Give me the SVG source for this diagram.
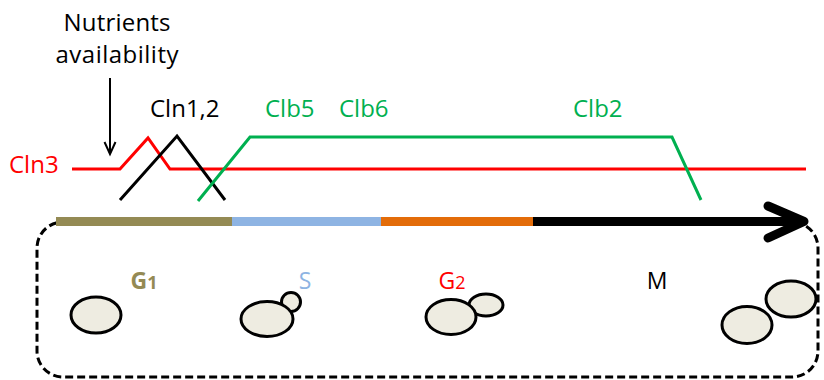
<svg xmlns="http://www.w3.org/2000/svg" width="824" height="380" viewBox="0 0 824 380">
  <style>
    text { font-family: "Open Sans", "Liberation Sans", sans-serif; }
    .lbl { font-size: 24px; }
    .phase { font-size: 23px; text-anchor: middle; }
    .sub { font-size: 18px; }
    .curve { fill: none; stroke-width: 3; stroke-linejoin: miter; }
    .cell { fill: #EEECE1; stroke: #000; stroke-width: 3; }
  </style>

  <!-- cell-cycle frame -->
  <rect x="37" y="222" width="781" height="155" rx="26" ry="26" fill="none" stroke="#000" stroke-width="3" stroke-dasharray="8,4"/>

  <g id="connectors">
    <!-- nutrient signal -->
    <line x1="110" y1="78" x2="110" y2="153" stroke="#000" stroke-width="2"/>
    <path d="M104.5,142 L110,154 L115.5,142" fill="none" stroke="#000" stroke-width="2"/>
    <!-- Cln3 level -->
    <polyline class="curve" stroke="#FF0000" points="72,169 120,169 148,138 170,169 806,169"/>
    <!-- Cln1,2 pulse -->
    <polyline class="curve" stroke="#000" points="120,200 177,136 225,200"/>
    <!-- Clb5/6 and Clb2 -->
    <polyline class="curve" stroke="#00B050" points="198,201 250,137 672,137 701,200"/>
  </g>

  <g id="phase-bar">
    <line x1="56" y1="221.5" x2="232" y2="221.5" stroke="#948A54" stroke-width="9"/>
    <line x1="232" y1="221.5" x2="381" y2="221.5" stroke="#8EB4E3" stroke-width="9"/>
    <line x1="381" y1="221.5" x2="533" y2="221.5" stroke="#E36C09" stroke-width="9"/>
    <line x1="533" y1="221.5" x2="800" y2="221.5" stroke="#000" stroke-width="9"/>
    <polyline points="768,206 804,221.5 768,238" fill="none" stroke="#000" stroke-width="9" stroke-linecap="round" stroke-linejoin="round"/>
  </g>

  <g id="nutrients">
    <text class="lbl" x="117" y="31" text-anchor="middle" textLength="107">Nutrients</text>
    <text class="lbl" x="117" y="63" text-anchor="middle" textLength="123">availability</text>
  </g>
  <g id="cln3"><text class="lbl" x="9" y="173" fill="#FF0000">Cln3</text></g>
  <g id="cln12"><text class="lbl" x="150" y="117">Cln1,2</text></g>
  <g id="clb56">
    <text class="lbl" x="265" y="117" fill="#00B050">Clb5</text>
    <text class="lbl" x="339" y="117" fill="#00B050">Clb6</text>
  </g>
  <g id="clb2"><text class="lbl" x="573" y="117" fill="#00B050">Clb2</text></g>

  <g id="g1">
    <text class="phase" x="144" y="289" fill="#948A54" font-weight="bold">G<tspan class="sub">1</tspan></text>
    <ellipse class="cell" cx="96" cy="315" rx="25" ry="18"/>
  </g>
  <g id="s">
    <text class="phase" x="305" y="289" fill="#8EB4E3">S</text>
    <circle class="cell" cx="291" cy="302" r="9.5"/>
    <ellipse class="cell" cx="267" cy="319" rx="26" ry="17.5"/>
  </g>
  <g id="g2">
    <text class="phase" x="452" y="289" fill="#FF0000">G<tspan class="sub">2</tspan></text>
    <ellipse class="cell" cx="486" cy="305" rx="17" ry="11"/>
    <ellipse class="cell" cx="451" cy="317" rx="25" ry="17.5"/>
  </g>
  <g id="m">
    <text class="phase" x="657" y="289" fill="#000">M</text>
    <ellipse class="cell" cx="791" cy="299" rx="25" ry="18"/>
    <ellipse class="cell" cx="747" cy="325" rx="25" ry="18.5"/>
  </g>
</svg>
